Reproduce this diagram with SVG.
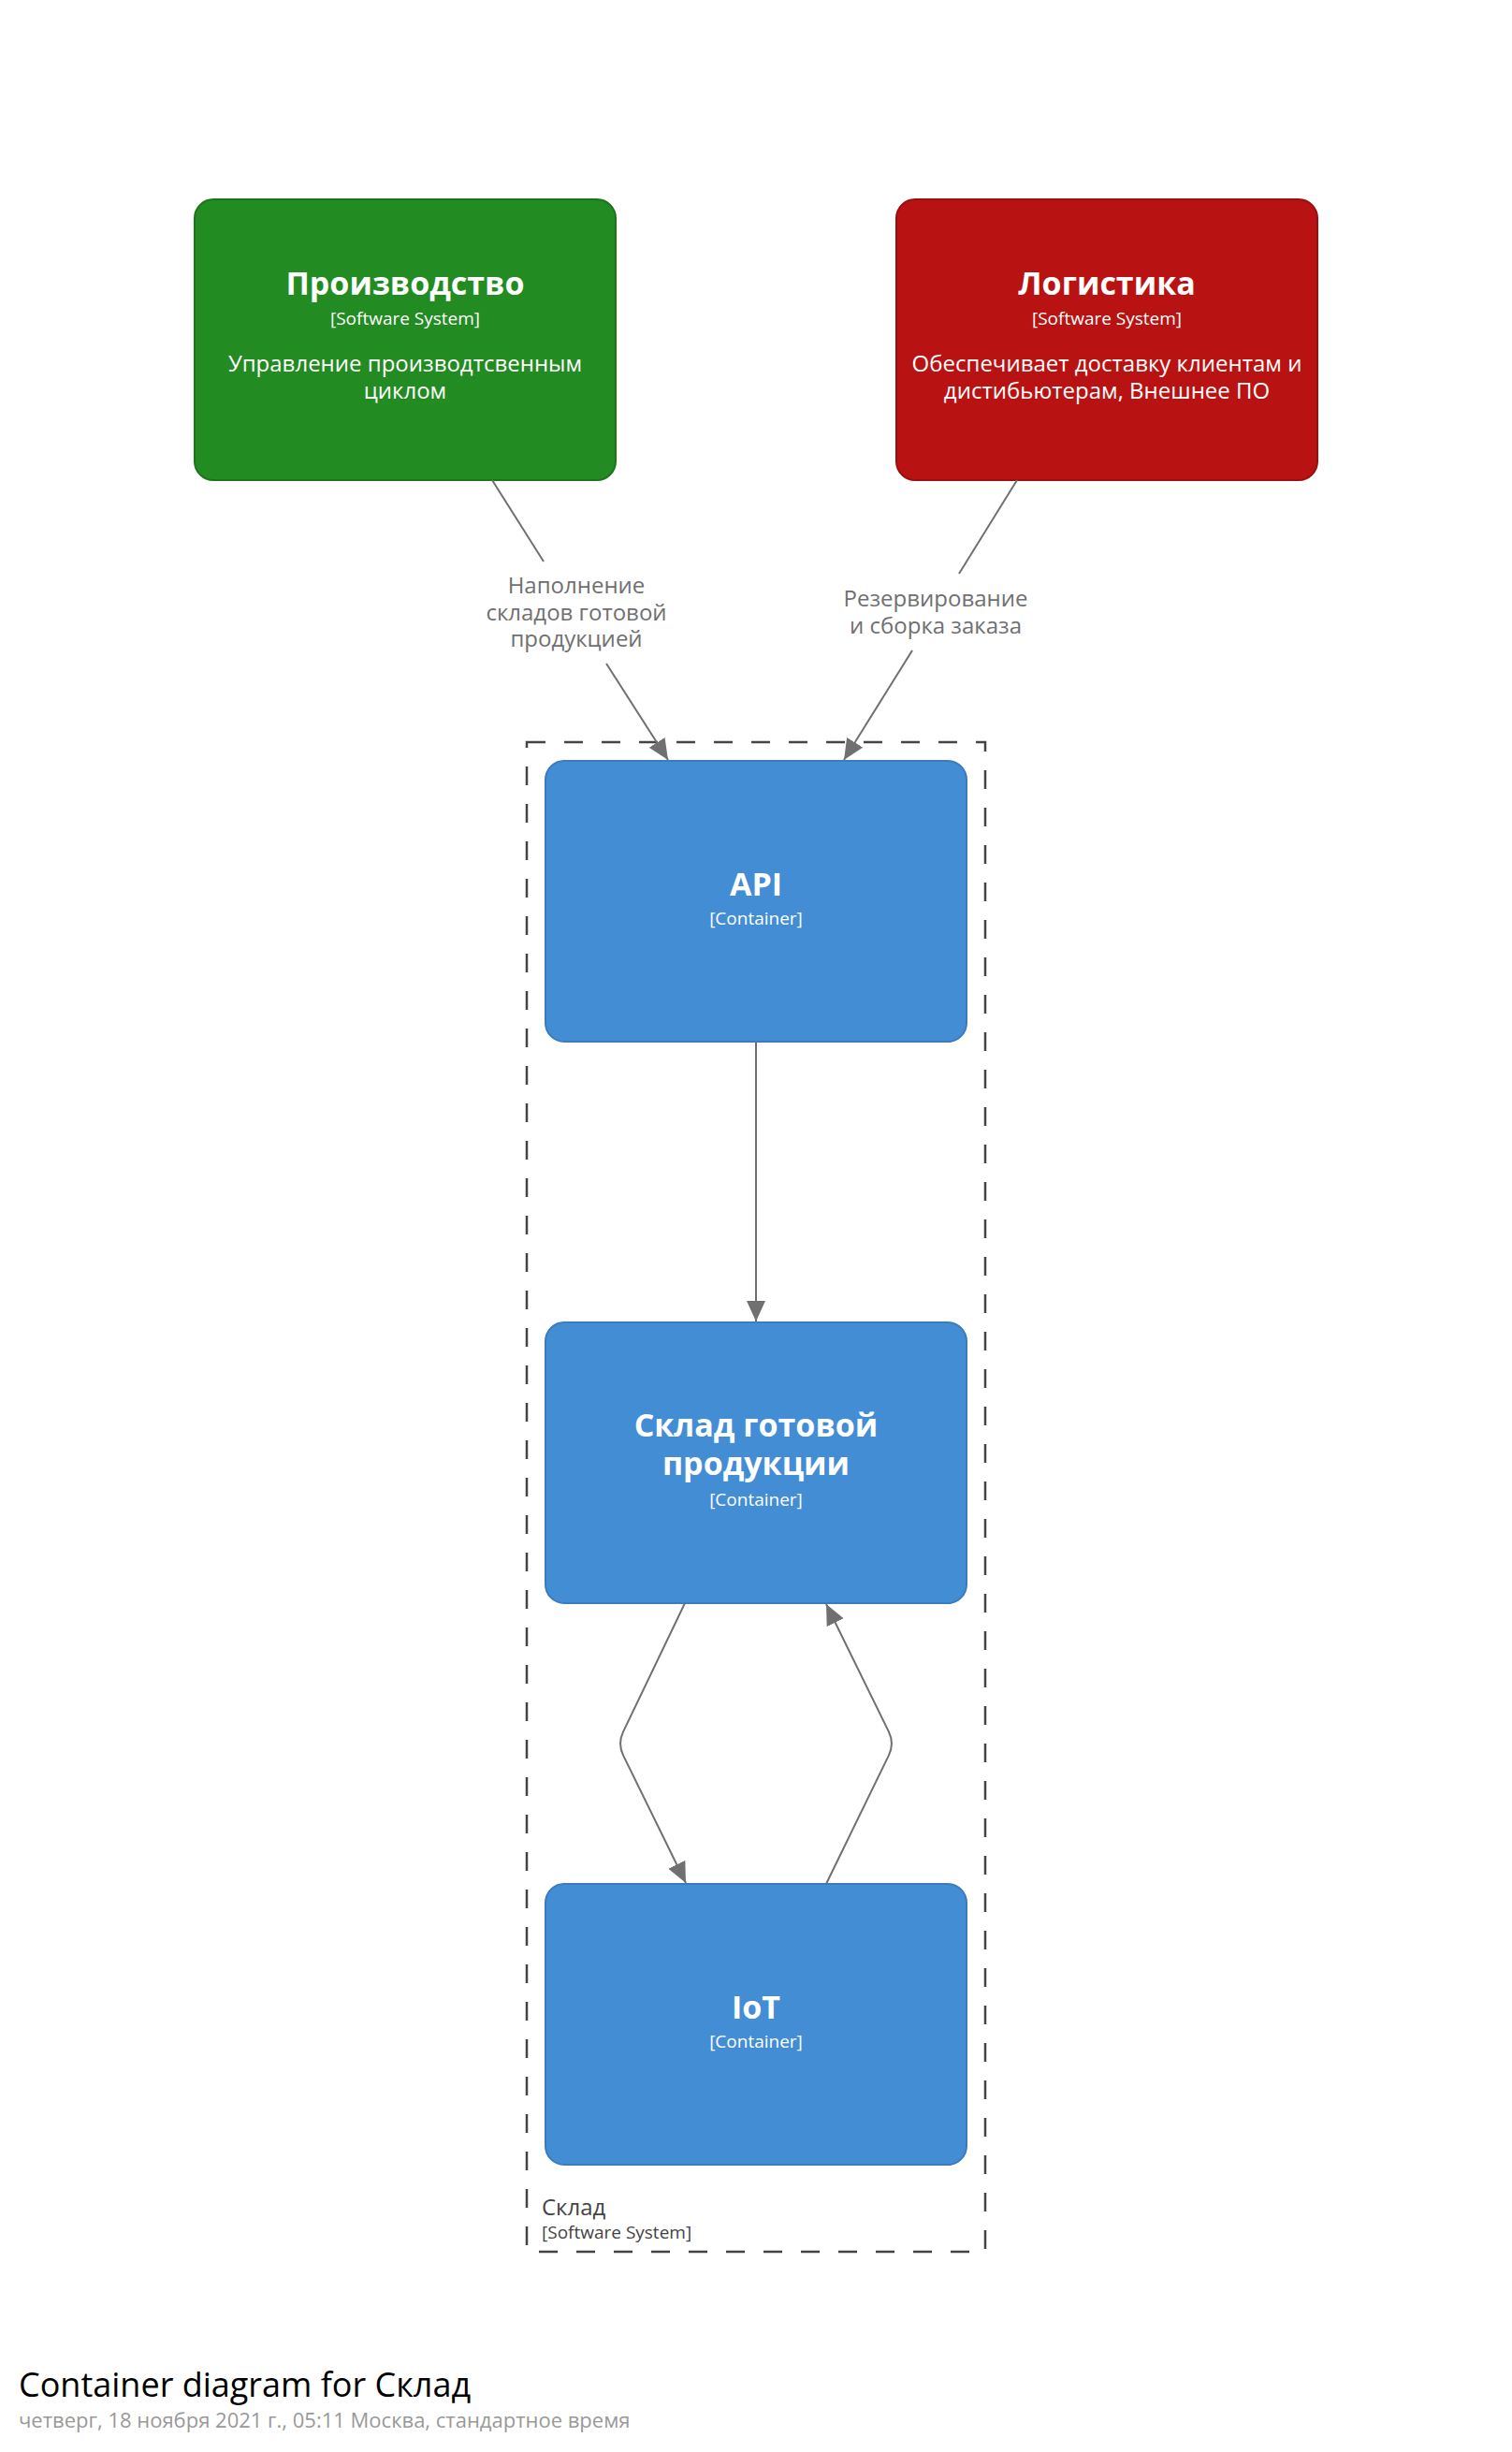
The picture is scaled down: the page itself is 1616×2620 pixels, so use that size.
<svg xmlns="http://www.w3.org/2000/svg" width="1616" height="2620" viewBox="0 0 1616 2620">
<style>
text{font-family:"Open Sans","Noto Sans","DejaVu Sans",sans-serif;}
.name{font-size:34px;font-weight:bold;fill:#ffffff;text-anchor:middle;}
.meta{font-size:19px;fill:#ffffff;text-anchor:middle;}
.desc{font-size:24px;fill:#ffffff;text-anchor:middle;}
.rel{font-size:24px;fill:#707070;text-anchor:middle;}
.conn{fill:none;stroke:#707070;stroke-width:2;}
.bname{font-size:24px;fill:#444444;}
.bmeta{font-size:19px;fill:#444444;}
</style>
<defs>
<marker id="arrow" markerUnits="userSpaceOnUse" markerWidth="24" markerHeight="22" refX="22" refY="10" orient="auto">
<path d="M0,0 L22,10 L0,20 Z" fill="#707070"/>
</marker>
</defs>
<rect width="1616" height="2620" fill="#ffffff"/>
<g id="boundary-sklad">
<rect x="563" y="793" width="490" height="1613" fill="none" stroke="#444444" stroke-width="2.5" stroke-dasharray="20,20"/>
<text class="bname" x="579" y="2367">Склад</text>
<text class="bmeta" x="579" y="2392">[Software System]</text>
</g>
<g id="node-proizvodstvo">
<rect x="208" y="213" width="450" height="300" rx="20" ry="20" fill="#228B22" stroke="#1C741C" stroke-width="2"/>
<text class="name" x="433" y="315">Производство</text>
<text class="meta" x="433" y="347">[Software System]</text>
<text class="desc" x="433" y="397">Управление производтсвенным</text>
<text class="desc" x="433" y="426">циклом</text>
</g>
<g id="node-logistika">
<rect x="958" y="213" width="450" height="300" rx="20" ry="20" fill="#B91212" stroke="#9A0F0F" stroke-width="2"/>
<text class="name" x="1183" y="315">Логистика</text>
<text class="meta" x="1183" y="347">[Software System]</text>
<text class="desc" x="1183" y="397">Обеспечивает доставку клиентам и</text>
<text class="desc" x="1183" y="426">дистибьютерам, Внешнее ПО</text>
</g>
<g id="node-api">
<rect x="583" y="813" width="450" height="300" rx="20" ry="20" fill="#438DD5" stroke="#3A7CBE" stroke-width="2"/>
<text class="name" x="808" y="957">API</text>
<text class="meta" x="808" y="988">[Container]</text>
</g>
<g id="node-sklad-gp">
<rect x="583" y="1413" width="450" height="300" rx="20" ry="20" fill="#438DD5" stroke="#3A7CBE" stroke-width="2"/>
<text class="name" x="808" y="1535">Склад готовой</text>
<text class="name" x="808" y="1576">продукции</text>
<text class="meta" x="808" y="1609">[Container]</text>
</g>
<g id="node-iot">
<rect x="583" y="2013" width="450" height="300" rx="20" ry="20" fill="#438DD5" stroke="#3A7CBE" stroke-width="2"/>
<text class="name" x="808" y="2157">IoT</text>
<text class="meta" x="808" y="2188">[Container]</text>
</g>
<g id="connectors">
<path class="conn" d="M526,513 L581,600" />
<path class="conn" d="M648,709 L714,812" marker-end="url(#arrow)"/>
<text class="rel" x="616" y="634">Наполнение</text>
<text class="rel" x="616" y="663">складов готовой</text>
<text class="rel" x="616" y="691">продукцией</text>
<path class="conn" d="M1087,513 L1025,613" />
<path class="conn" d="M975,695 L902,812" marker-end="url(#arrow)"/>
<text class="rel" x="1000" y="648">Резервирование</text>
<text class="rel" x="1000" y="677">и сборка заказа</text>
<path class="conn" d="M808,1113 L808,1412" marker-end="url(#arrow)"/>
<path class="conn" d="M732,1713 L666.1,1850.4 Q660,1863 666.1,1875.6 L733,2012" marker-end="url(#arrow)"/>
<path class="conn" d="M883,2013 L949.9,1875.6 Q956,1863 949.9,1850.4 L883,1714" marker-end="url(#arrow)"/>
</g>
<g id="footer">
<text x="20" y="2561" style="font-size:36px;fill:#000000;">Container diagram for Склад</text>
<text x="20" y="2594" style="font-size:22px;fill:#999999;">четверг, 18 ноября 2021 г., 05:11 Москва, стандартное время</text>
</g>
</svg>
